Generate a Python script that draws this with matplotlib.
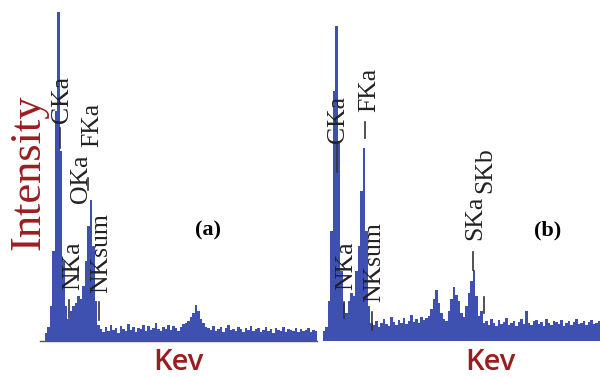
import numpy as np
import matplotlib
matplotlib.use('Agg')
import matplotlib.pyplot as plt

# EDS spectra, counts per channel (arbitrary units)
counts_a = [0, 8, 14, 35, 90, 230, 329, 190, 80, 35, 22, 30, 35, 38, 45, 42, 55, 80, 115, 141, 95, 40, 16,
            12, 9, 14, 10, 16, 11, 13, 8, 15, 12, 10, 17, 11, 14, 9, 13, 12, 16, 10, 15, 11, 13, 18, 12,
            10, 14, 12, 16, 11, 15, 13, 10, 14, 17,
            18, 20, 24, 28, 36, 30, 22, 18, 14,
            13, 11, 15, 10, 12, 14, 9, 13, 16, 11, 12, 10, 14, 12, 9, 13, 11, 15, 10, 12, 13, 9, 11, 14,
            10, 12, 8, 13, 11, 10, 14, 9, 12, 11, 10, 13, 9, 12, 10, 11, 13, 9, 11, 10]
counts_b = [0, 10, 14, 40, 110, 250, 315, 200, 70, 38, 28, 40, 48, 45, 70, 95, 150, 193, 110, 35, 18,
            16, 20, 14, 18, 22, 17, 15, 24, 19, 16, 21, 18, 23, 17, 20, 26, 19, 22, 18, 24, 21, 23,
            25, 32, 42, 51, 38, 28, 22,
            20, 30, 42, 54, 46, 40, 28, 24,
            35, 48, 60, 71, 45, 25, 30, 18,
            20, 16, 22, 18, 15, 21, 17, 19, 23, 16, 18, 20, 15, 19, 22, 17, 30, 18, 16, 20, 21, 17, 19,
            15, 22, 18, 16, 20, 19, 17, 21, 15, 18, 20, 16, 19, 22, 17, 18, 20, 16, 19, 21, 17, 18, 20]

# peak labels: (text, channel, label bottom, marker low, marker high)
labels_a = [("CKa", 8.0, 218, 193, 213), ("FKa", 20.0, 194, 151, 163),
            ("OKa", 15.6, 138, 61, 73), ("NKa", 12.4, 51, 23, 41),
            ("NKsum", 23.6, 48, 21, 39)]
labels_b = [("CKa", 7.2, 198, 169, 196), ("FKa", 19.6, 229, 203, 219),
            ("NKa", 10.4, 51, 23, 39), ("NKsum", 21.6, 39, 11, 29),
            ("SKa", 62.0, 101, 71, 89), ("SKb", 66.0, 148, 28, 44)]
marker_x_a = [7.2, 18.4, 14.4, 10.8, 22.8]
marker_x_b = [6.8, 18.0, 9.6, 20.8, 61.2, 65.6]

BLUE = '#3f51b0'
RED = '#9b1d20'
W, H = 600, 377

fig = plt.figure(figsize=(6, 3.77), dpi=100)
ax_a = fig.add_axes([42 / W, (H - 341) / H, 275 / W, 330 / H])
ax_b = fig.add_axes([320 / W, (H - 341) / H, 280 / W, 330 / H])


def draw(ax, counts, labels, marker_x, nch):
    x = np.arange(len(counts) + 1)
    y = list(counts) + [counts[-1]]
    ax.fill_between(x, y, step='post', color=BLUE, lw=0)
    ax.set_xlim(0, nch)
    ax.set_ylim(0, 330)
    ax.axis('off')
    for (txt, cx, bottom, lo, hi), mx in zip(labels, marker_x):
        ax.text(cx, bottom, txt, rotation=90, ha='center', va='bottom',
                family='Liberation Serif', fontsize=18.5, color='#222222')
        ax.plot([mx, mx], [lo, hi], color='#333333', lw=1.2)


draw(ax_a, counts_a, labels_a, marker_x_a, 110)
draw(ax_b, counts_b, labels_b, marker_x_b, 112)
ax_a.plot([-1, 110], [0, 0], color='#555555', lw=1, clip_on=False)

fig.text(208 / W, 1 - 230 / H, "(a)", ha='center', va='center',
         family='Liberation Serif', fontweight='bold', fontsize=16)
fig.text(548 / W, 1 - 230 / H, "(b)", ha='center', va='center',
         family='Liberation Serif', fontweight='bold', fontsize=16)
fig.text(28 / W, 1 - 172 / H, "Intensity", rotation=90, ha='center', va='center',
         family='Liberation Serif', fontsize=32, color=RED)
fig.text(178 / W, 1 - 362 / H, "Kev", ha='center', va='center',
         family='Open Sans', fontweight='semibold', fontsize=21, color=RED)
fig.text(490 / W, 1 - 362 / H, "Kev", ha='center', va='center',
         family='Open Sans', fontweight='semibold', fontsize=21, color=RED)

fig.savefig('out.png', dpi=100)
